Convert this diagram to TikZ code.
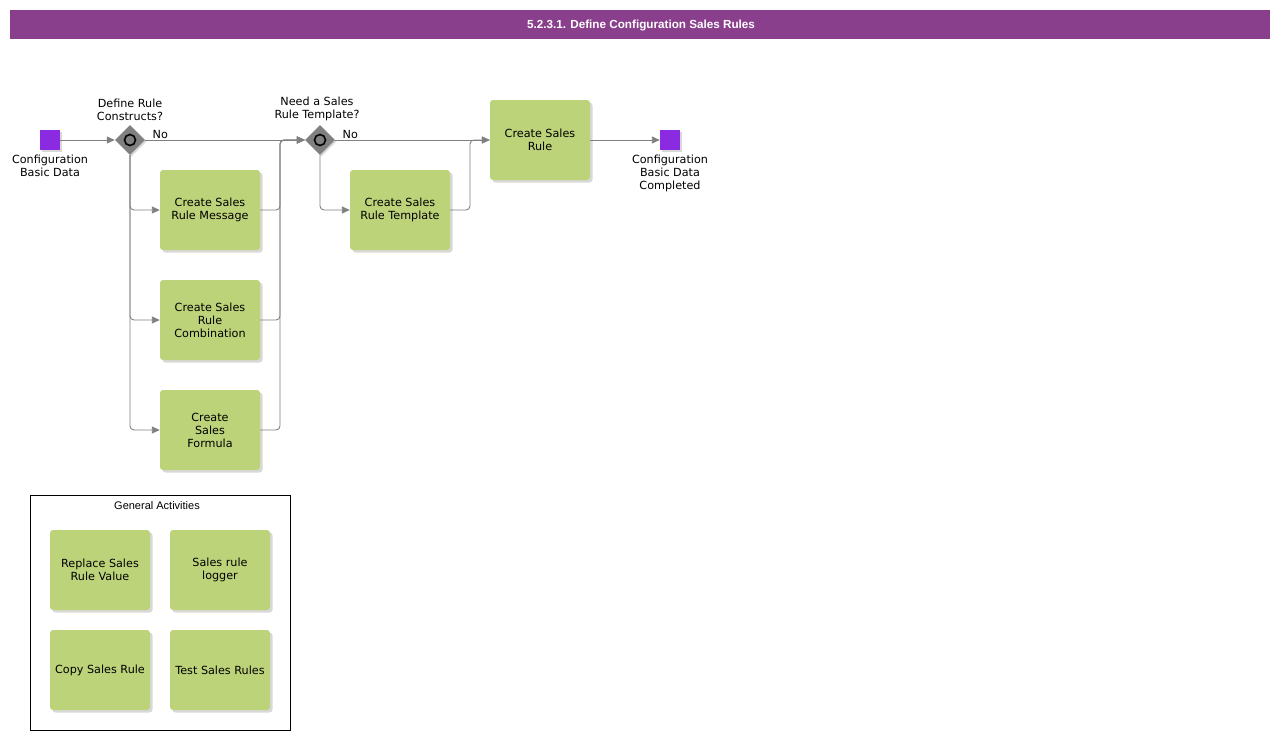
\documentclass[tikz,border=0pt]{standalone}
\usepackage{fontspec}
\setmainfont{DejaVu Sans}
\newfontfamily\headfont{Liberation Sans}
\usetikzlibrary{positioning}
\usetikzlibrary{shapes.geometric, shadows, arrows.meta}

\definecolor{headpurple}{RGB}{137,63,140}
\definecolor{eventviolet}{RGB}{138,43,226}
\definecolor{taskgreen}{RGB}{189,211,122}
\definecolor{flowgray}{RGB}{128,128,128}

\tikzset{
  task/.style={rectangle, rounded corners=3pt, fill=taskgreen, minimum width=100pt, minimum height=80pt,
    inner sep=1pt, align=center, font=\fontsize{11.2}{13}\selectfont,
    drop shadow={shadow xshift=2.5pt, shadow yshift=-2.5pt, fill=black!30}},
  event/.style={rectangle, fill=eventviolet, minimum size=20pt, inner sep=0pt,
    drop shadow={shadow xshift=1.5pt, shadow yshift=-1.5pt, fill=black!30}},
  gateway/.style={diamond, fill=flowgray, minimum size=30pt, inner sep=0pt,
    drop shadow={shadow xshift=1.5pt, shadow yshift=-1.5pt, fill=black!30}},
  lbl/.style={font=\fontsize{11.2}{13}\selectfont, align=center, inner sep=1pt},
  flow/.style={draw=flowgray, line width=0.9pt, rounded corners=4pt, -{Triangle[length=8pt,width=7pt]}}
}

\begin{document}
\begin{tikzpicture}[x=1pt,y=-1pt]
\useasboundingbox (0,0) rectangle (1280,740);
\fill[headpurple] (10,10) rectangle (1270,39);
\node[font=\headfont\bfseries\fontsize{11.7}{14}\selectfont, text=white] (head) at (641,25.5) {5.2.3.1. Define Configuration Sales Rules};

\node[event] (start) at (50,140) {};
\node[lbl, below=4pt of start] (startlbl) {Configuration\\Basic Data};

\node[gateway] (gwrule) at (130,140) {};
\draw[black, line width=1.6pt] (gwrule) circle (5.5pt);
\node[lbl, above=3pt of gwrule] (gwrulelbl) {Define Rule\\Constructs?};

\node[task] (msg) at (210,210) {Create Sales\\Rule Message};
\node[task] (comb) at (210,320) {Create Sales\\Rule\\Combination};
\node[task] (formula) at (210,430) {Create\\Sales\\Formula};

\node[gateway] (gwtmpl) at (320,140) {};
\draw[black, line width=1.6pt] (gwtmpl) circle (5.5pt);
\node[lbl, above=3pt of gwtmpl, xshift=-3pt] (gwtmpllbl) {Need a Sales\\Rule Template?};

\node[task] (tmpl) at (400,210) {Create Sales\\Rule Template};
\node[task] (rule) at (540,140) {Create Sales\\Rule};

\node[event] (end) at (670,140) {};
\node[lbl, below=4pt of end] (endlbl) {Configuration\\Basic Data\\Completed};

\coordinate (joinA) at (280,140);
\coordinate (joinB) at (470,140);

\draw[flow] (start) -- (gwrule);
\draw[flow] (gwrule.east) -- node[lbl, pos=0, anchor=south west, xshift=6pt] (norule) {No} (gwtmpl.west);
\draw[flow] (gwrule.south) |- (msg.west);
\draw[flow] (gwrule.south) |- (comb.west);
\draw[flow] (gwrule.south) |- (formula.west);
\draw[flow] (msg.east) -| (joinA) -- (gwtmpl.west);
\draw[flow] (comb.east) -| (joinA) -- (gwtmpl.west);
\draw[flow] (formula.east) -| (joinA) -- (gwtmpl.west);
\draw[flow] (gwtmpl.east) -- node[lbl, pos=0, anchor=south west, xshift=6pt] (notmpl) {No} (rule.west);
\draw[flow] (gwtmpl.south) |- (tmpl.west);
\draw[flow] (tmpl.east) -| (joinB) -- (rule.west);
\draw[flow] (rule) -- (end);

\draw[black, line width=0.8pt] (30,495) rectangle (290,730);
\node[font=\headfont\fontsize{11}{13}\selectfont] (general) at (157,506) {General Activities};
\node[task] (replace) at (100,570) {Replace Sales\\Rule Value};
\node[task] (logger) at (220,570) {Sales rule\\logger};
\node[task] (copy) at (100,670) {Copy Sales Rule};
\node[task] (test) at (220,670) {Test Sales Rules};
\end{tikzpicture}
\end{document}
